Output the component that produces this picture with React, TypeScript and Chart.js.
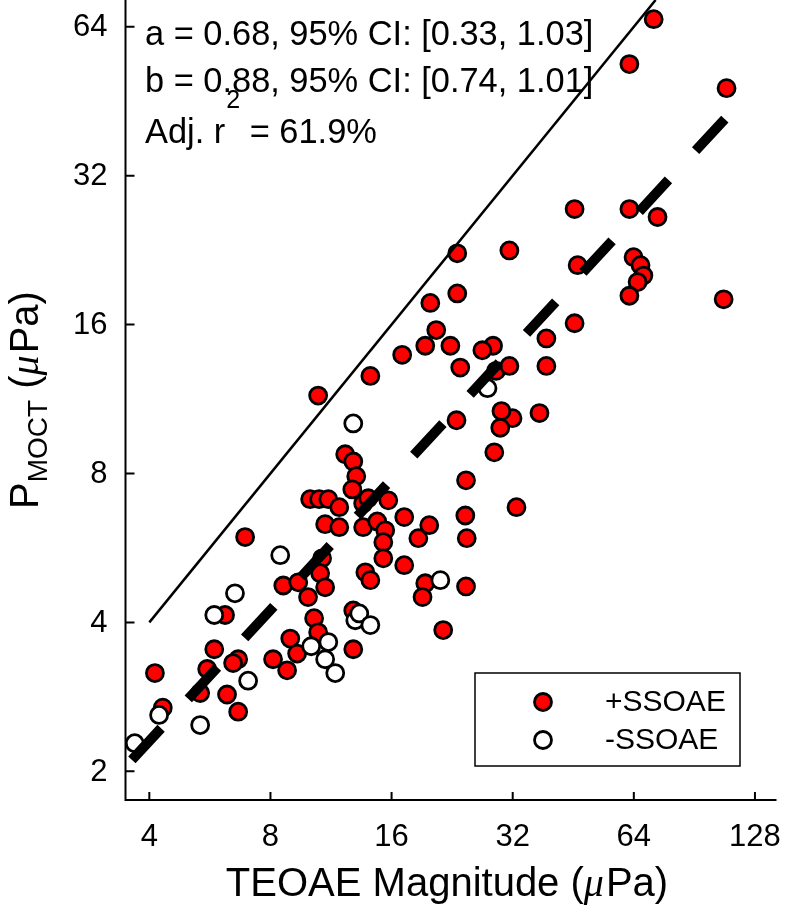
import React, { useEffect, useRef } from 'react';
import { Chart, registerables } from 'chart.js';

Chart.register(...registerables);

// ---- axis ticks / ranges ----
const xTicks = [4, 8, 16, 32, 64, 128];
const yTicks = [2, 4, 8, 16, 32, 64];
const xRange = [3.49, 144.8];
const yRange = [1.75, 72.5];

// ---- +SSOAE (red) ----
const posX = [71.7, 62.4, 108.8, 45.6, 62.4, 73.3, 46.4, 63.9, 66.5, 67.6, 65.4, 62.4, 107, 45.6,
  10.51, 14.17, 12.27, 12.85, 13.07, 12.78, 10.04, 10.57, 11.14, 11.86, 13.6, 14.0, 15.7,
  10.94, 11.86, 13.6, 14.74, 15.43, 15.26, 17.2, 18.65, 19.85, 15.26, 17.2, 10.75, 10.63,
  8.61, 9.38, 10.94, 9.92, 13.77, 14.17, 19.4, 19.1, 10.27, 10.51, 12.85, 8.96, 21.5,
  6.17, 9.32, 12.85, 8.12, 8.8, 5.8, 5.57, 5.35, 6.65, 6.46, 6.24, 6.65, 4.13, 4.32, 6.92,
  19.97, 23.3, 17.0, 19.4, 22.4, 20.66, 23.7, 23.3, 31.4, 28.6, 26.9, 29.1, 31.4, 38.8, 38.8,
  23.2, 31.96, 37.3, 30.0, 29.8, 28.8, 24.5, 32.7, 24.4, 24.6, 24.5];
const posY = [66.3, 53.8, 48.1, 27.4, 27.4, 26.4, 21.1, 21.9, 21.1, 20.1, 19.5, 18.3, 18.0, 16.1,
  11.5, 12.6, 8.75, 8.46, 7.9, 7.43, 7.1, 7.1, 7.1, 6.84, 6.96, 7.13, 7.06,
  6.32, 6.23, 6.23, 6.4, 6.14, 5.81, 6.53, 5.92, 6.29, 5.39, 5.22, 5.39, 5.03,
  4.75, 4.82, 4.71, 4.5, 5.05, 4.87, 4.8, 4.5, 4.08, 3.82, 4.23, 3.71, 3.86,
  4.14, 3.46, 3.53, 3.37, 3.2, 3.53, 3.22, 2.88, 3.37, 3.31, 2.86, 2.64, 3.16, 2.69, 5.95,
  17.7, 18.5, 13.9, 14.5, 14.5, 15.6, 13.1, 22.3, 22.6, 14.5, 14.2, 12.9, 13.2, 15.0, 13.2,
  10.25, 10.35, 10.6, 10.7, 9.9, 8.83, 7.75, 6.84, 6.58, 5.92, 4.73];

// ---- -SSOAE (white) ----
const negX = [12.85, 8.46, 21.15, 13.0, 13.3, 14.17, 6.53, 5.8, 10.1, 11.14, 10.94, 11.59, 7.04, 5.35, 4.23, 3.68, 27.7];
const negY = [10.1, 5.47, 4.87, 4.04, 4.17, 3.95, 4.58, 4.14, 3.58, 3.65, 3.37, 3.16, 3.05, 2.48, 2.6, 2.28, 11.9];

// ---- reference lines ----
const identityX = [4, 72.5];
const identityY = [4, 72.5];
const fitX = [3.62, 111.4];
const fitY = [2.11, 42.9];

// ---- texts ----
const statLine1 = 'a = 0.68, 95% CI: [0.33, 1.03]';
const statLine2 = 'b = 0.88, 95% CI: [0.74, 1.01]';
const r2Prefix = 'Adj. r';
const r2Sup = '2';
const r2Suffix = ' = 61.9%';
const legendLabels = ['+SSOAE', '-SSOAE'];
const xTitleParts = ['TEOAE Magnitude (', '\u03bc', 'Pa)'];
const yTitleMain = 'P';
const yTitleSub = 'MOCT';
const yTitleParts = [' (', '\u03bc', 'Pa)'];

const SANS = '"Liberation Sans", Arial, Helvetica, sans-serif';
const SERIF_IT = 'italic 40px "Liberation Serif", "DejaVu Serif", serif';
const RED = '#ff0000';

const zip = (xs: number[], ys: number[]) => xs.map((x, i) => ({ x, y: ys[i] }));

const overlay = {
  id: 'overlay',
  afterDatasetsDraw(chart: any) {
    const { ctx, chartArea: ca, scales } = chart;
    const sx = scales.x;
    const sy = scales.y;
    ctx.save();
    ctx.strokeStyle = '#000';
    ctx.fillStyle = '#000';
    ctx.lineWidth = 2;
    ctx.lineCap = 'butt';
    // axes
    ctx.beginPath();
    ctx.moveTo(ca.left, ca.top);
    ctx.lineTo(ca.left, ca.bottom);
    ctx.lineTo(ca.right, ca.bottom);
    ctx.stroke();
    // inward ticks
    ctx.beginPath();
    xTicks.forEach((v) => {
      const px = sx.getPixelForValue(v);
      ctx.moveTo(px, ca.bottom);
      ctx.lineTo(px, ca.bottom - 8);
    });
    yTicks.forEach((v) => {
      const py = sy.getPixelForValue(v);
      ctx.moveTo(ca.left, py);
      ctx.lineTo(ca.left + 9, py);
    });
    ctx.stroke();

    // tick labels
    ctx.font = `31px ${SANS}`;
    ctx.textAlign = 'center';
    ctx.textBaseline = 'alphabetic';
    xTicks.forEach((v) => {
      ctx.fillText(String(v), sx.getPixelForValue(v), ca.bottom + 45.5);
    });
    ctx.textAlign = 'right';
    ctx.textBaseline = 'middle';
    yTicks.forEach((v) => {
      ctx.fillText(String(v), ca.left - 18, sy.getPixelForValue(v) + 1);
    });

    // x title
    ctx.textBaseline = 'alphabetic';
    ctx.textAlign = 'left';
    const f40 = `40px ${SANS}`;
    ctx.font = f40;
    const w1 = ctx.measureText(xTitleParts[0]).width;
    const w3 = ctx.measureText(xTitleParts[2]).width;
    ctx.font = SERIF_IT;
    const w2 = ctx.measureText(xTitleParts[1]).width + 2;
    const xtW = w1 + w2 + w3;
    let tx = (ca.left + ca.right) / 2 - 4 - xtW / 2;
    const tyBase = ca.bottom + 96;
    ctx.font = f40;
    ctx.fillText(xTitleParts[0], tx, tyBase);
    tx += w1;
    ctx.font = SERIF_IT;
    ctx.fillText(xTitleParts[1], tx, tyBase);
    tx += w2;
    ctx.font = f40;
    ctx.fillText(xTitleParts[2], tx, tyBase);

    // y title (rotated)
    ctx.save();
    ctx.translate(38, (ca.top + ca.bottom) / 2);
    ctx.rotate(-Math.PI / 2);
    const fSub = `28px ${SANS}`;
    ctx.font = f40;
    const pW = ctx.measureText(yTitleMain).width;
    const oW = ctx.measureText(yTitleParts[0]).width;
    const paW = ctx.measureText(yTitleParts[2]).width;
    ctx.font = fSub;
    const subW = ctx.measureText(yTitleSub).width;
    ctx.font = SERIF_IT;
    const muW = ctx.measureText(yTitleParts[1]).width + 2;
    const ytW = pW + subW + oW + muW + paW;
    let yx = -ytW / 2;
    ctx.font = f40;
    ctx.fillText(yTitleMain, yx, 0);
    yx += pW;
    ctx.font = fSub;
    ctx.fillText(yTitleSub, yx, 9);
    yx += subW;
    ctx.font = f40;
    ctx.fillText(yTitleParts[0], yx, 0);
    yx += oW;
    ctx.font = SERIF_IT;
    ctx.fillText(yTitleParts[1], yx, 0);
    yx += muW;
    ctx.font = f40;
    ctx.fillText(yTitleParts[2], yx, 0);
    ctx.restore();

    // statistics annotation
    const f34 = `34.4px ${SANS}`;
    ctx.font = f34;
    const ax = ca.left + 19.5;
    ctx.fillText(statLine1, ax, 45);
    ctx.fillText(statLine2, ax, 91.5);
    ctx.fillText(r2Prefix, ax, 143);
    let rx = ax + ctx.measureText(r2Prefix).width + 1;
    ctx.font = `25px ${SANS}`;
    ctx.fillText(r2Sup, rx, 108);
    rx += ctx.measureText(r2Sup).width;
    ctx.font = f34;
    ctx.fillText(r2Suffix, rx, 143);

    // legend
    const lx = 475, ly = 673, lw = 265, lh = 93;
    ctx.fillStyle = '#fff';
    ctx.fillRect(lx, ly, lw, lh);
    ctx.lineWidth = 1.5;
    ctx.strokeStyle = '#000';
    ctx.strokeRect(lx, ly, lw, lh);
    const rows = [ly + 29, ly + 67];
    const fills = [RED, '#fff'];
    rows.forEach((ry, i) => {
      ctx.beginPath();
      ctx.arc(lx + 68, ry, 8.5, 0, Math.PI * 2);
      ctx.fillStyle = fills[i];
      ctx.fill();
      ctx.lineWidth = 2.8;
      ctx.strokeStyle = '#000';
      ctx.stroke();
      ctx.fillStyle = '#000';
      ctx.font = `30px ${SANS}`;
      ctx.textBaseline = 'middle';
      ctx.fillText(legendLabels[i], lx + 130, ry + 1);
    });
    ctx.restore();
  },
};

export default function App() {
  const ref = useRef<HTMLCanvasElement | null>(null);
  useEffect(() => {
    if (!ref.current) return;
    const chart = new Chart(ref.current, {
      type: 'scatter',
      data: {
        datasets: [
          {
            type: 'line',
            label: 'fit',
            data: zip(fitX, fitY),
            borderColor: '#000',
            borderWidth: 10,
            borderDash: [43, 40],
            borderCapStyle: 'butt',
            pointRadius: 0,
            fill: false,
            showLine: true,
            order: 0,
          } as any,
          {
            type: 'line',
            label: 'identity',
            data: zip(identityX, identityY),
            borderColor: '#000',
            borderWidth: 2.5,
            pointRadius: 0,
            fill: false,
            showLine: true,
            order: 1,
          } as any,
          {
            label: legendLabels[1],
            data: zip(negX, negY),
            backgroundColor: '#fff',
            borderColor: '#000',
            borderWidth: 2.8,
            pointRadius: 8.5,
            order: 2,
          },
          {
            label: legendLabels[0],
            data: zip(posX, posY),
            backgroundColor: RED,
            borderColor: '#000',
            borderWidth: 2.8,
            pointRadius: 8.5,
            order: 3,
          },
        ],
      },
      options: {
        animation: false,
        responsive: false,
        devicePixelRatio: 1,
        events: [],
        layout: { autoPadding: false, padding: { left: 125.5, right: 9.5, top: 0, bottom: 113 } },
        scales: {
          x: { type: 'logarithmic', min: xRange[0], max: xRange[1], display: false },
          y: { type: 'logarithmic', min: yRange[0], max: yRange[1], display: false },
        },
        plugins: { legend: { display: false }, tooltip: { enabled: false } },
      },
      plugins: [overlay],
    });
    return () => chart.destroy();
  }, []);
  return (
    <div style={{ position: 'absolute', left: 0, top: 0, width: 786, height: 913, background: '#fff' }}>
      <canvas ref={ref} width={786} height={913} style={{ display: 'block' }} />
    </div>
  );
}
